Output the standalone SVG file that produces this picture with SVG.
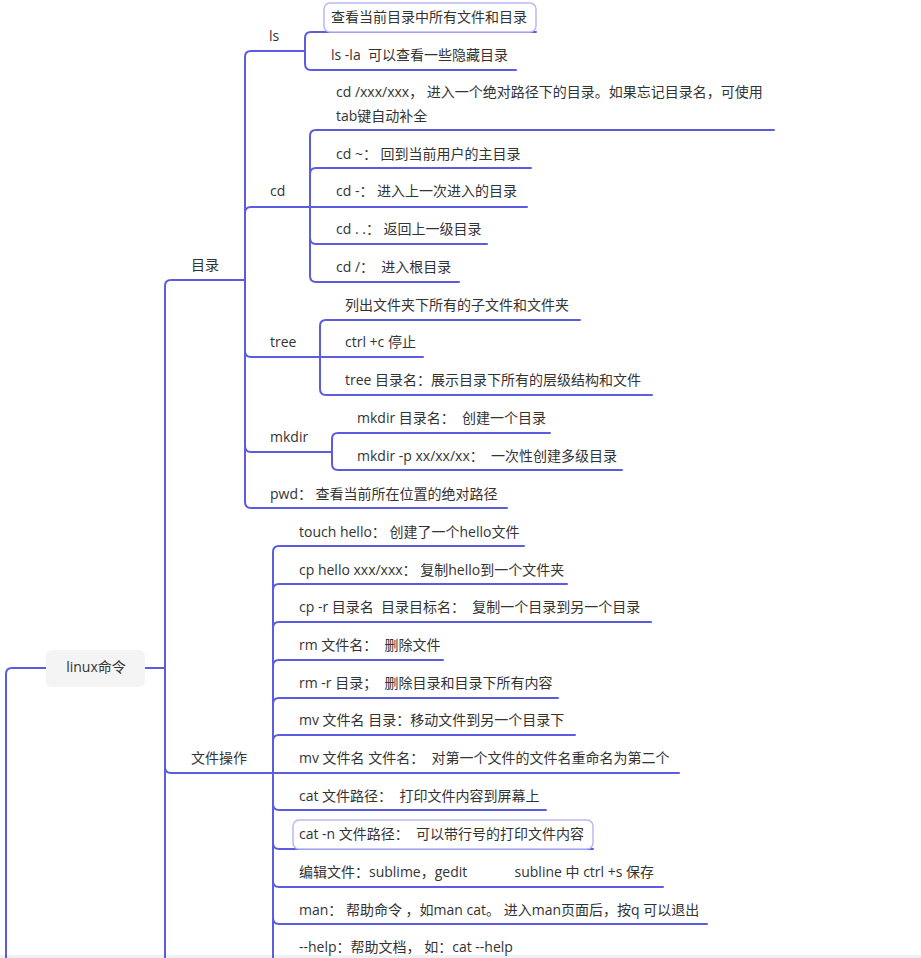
<svg xmlns="http://www.w3.org/2000/svg" width="921" height="958" viewBox="0 0 921 958">
<style>
.c{fill:none;stroke:#5b5ce0;stroke-width:2;stroke-linecap:round;stroke-linejoin:round}
.t{font-family:"Open Sans","Noto Sans CJK SC",sans-serif;font-size:14px;fill:#333;dominant-baseline:central}
.box{fill:#fff;stroke:#b9b9f2;stroke-width:1.5}
</style>
<rect x="0" y="0" width="921" height="958" fill="#fff"/>
<rect x="0" y="955" width="921" height="3" fill="#eef1f6"/>
<g id="connectors">
<path class="c" d="M145,668 H165 M165,668 V958"/>
<path class="c" d="M46,668 H12 Q6,668 6,674 V958"/>
<path class="c" d="M165,668 V286 Q165,280 171,280 H245"/>
<path class="c" d="M165,668 V767 Q165,773 171,773 H273"/>
<path class="c" d="M245,280 V57 Q245,51 251,51 H305"/>
<path class="c" d="M245,280 V213 Q245,207 251,207 H310"/>
<path class="c" d="M245,280 V351 Q245,357 251,357 H320"/>
<path class="c" d="M245,280 V446 Q245,452 251,452 H332"/>
<path class="c" d="M245,280 V502 Q245,508 251,508 H507"/>
<path class="c" d="M305,51 V38 Q305,32 311,32 H536"/>
<path class="c" d="M305,51 V64 Q305,70 311,70 H516"/>
<path class="c" d="M310,207 V136 Q310,130 316,130 H774"/>
<path class="c" d="M310,207 V174 Q310,168 316,168 H531"/>
<path class="c" d="M310,207 H527"/>
<path class="c" d="M310,207 V238 Q310,244 316,244 H487"/>
<path class="c" d="M310,207 V276 Q310,282 316,282 H459"/>
<path class="c" d="M320,357 V326 Q320,320 326,320 H580"/>
<path class="c" d="M320,357 H423"/>
<path class="c" d="M320,357 V389 Q320,395 326,395 H652"/>
<path class="c" d="M332,452 V439 Q332,433 338,433 H550"/>
<path class="c" d="M332,452 V464 Q332,470 338,470 H622"/>
<path class="c" d="M273,773 V552 Q273,546 279,546 H524"/>
<path class="c" d="M273,773 V590 Q273,584 279,584 H567"/>
<path class="c" d="M273,773 V628 Q273,622 279,622 H651"/>
<path class="c" d="M273,773 V666 Q273,660 279,660 H443"/>
<path class="c" d="M273,773 V704 Q273,698 279,698 H558"/>
<path class="c" d="M273,773 V741 Q273,735 279,735 H575"/>
<path class="c" d="M273,773 H679"/>
<path class="c" d="M273,773 V804 Q273,810 279,810 H546"/>
<path class="c" d="M273,773 V843 Q273,849 279,849 H593"/>
<path class="c" d="M273,773 V881 Q273,887 279,887 H663"/>
<path class="c" d="M273,773 V918 Q273,924 279,924 H707"/>
<path class="c" d="M273,773 V958"/>
</g>
<g id="root">
<rect x="46" y="650" width="99" height="37" rx="6" fill="#f4f4f4"/>
<text class="t" x="96" y="666" text-anchor="middle" font-size="15">linux命令</text>
</g>
<g id="mulu"><text class="t" x="191" y="264">目录</text></g>
<g id="ls"><text class="t" x="269" y="35">ls</text></g>
<g id="ls1"><rect class="box" x="324" y="3" width="212" height="29" rx="6"/><text class="t" x="331" y="16">查看当前目录中所有文件和目录</text></g>
<g id="ls2"><text class="t" x="331" y="54" xml:space="preserve">ls -la  可以查看一些隐藏目录</text></g>
<g id="cd"><text class="t" x="270" y="190">cd</text></g>
<g id="cd1"><text class="t" x="336" y="91">cd /xxx/xxx， 进入一个绝对路径下的目录。如果忘记目录名，可使用</text><text class="t" x="336" y="115">tab键自动补全</text></g>
<g id="cd2"><text class="t" x="336" y="153">cd ~： 回到当前用户的主目录</text></g>
<g id="cd3"><text class="t" x="336" y="190">cd -： 进入上一次进入的目录</text></g>
<g id="cd4"><text class="t" x="336" y="228">cd . .： 返回上一级目录</text></g>
<g id="cd5"><text class="t" x="336" y="266" xml:space="preserve">cd /：  进入根目录</text></g>
<g id="tree"><text class="t" x="270" y="341">tree</text></g>
<g id="tree1"><text class="t" x="345" y="304">列出文件夹下所有的子文件和文件夹</text></g>
<g id="tree2"><text class="t" x="345" y="341">ctrl +c 停止</text></g>
<g id="tree3"><text class="t" x="345" y="379">tree 目录名：展示目录下所有的层级结构和文件</text></g>
<g id="mkdir"><text class="t" x="270" y="436">mkdir</text></g>
<g id="mkdir1"><text class="t" x="357" y="417" xml:space="preserve">mkdir 目录名：  创建一个目录</text></g>
<g id="mkdir2"><text class="t" x="357" y="455" xml:space="preserve">mkdir -p xx/xx/xx：  一次性创建多级目录</text></g>
<g id="pwd"><text class="t" x="270" y="493">pwd： 查看当前所在位置的绝对路径</text></g>
<g id="wjcz"><text class="t" x="191" y="757">文件操作</text></g>
<g id="f1"><text class="t" x="299" y="531">touch hello： 创建了一个hello文件</text></g>
<g id="f2"><text class="t" x="299" y="569">cp hello xxx/xxx： 复制hello到一个文件夹</text></g>
<g id="f3"><text class="t" x="299" y="606" xml:space="preserve">cp -r 目录名  目录目标名：  复制一个目录到另一个目录</text></g>
<g id="f4"><text class="t" x="299" y="644" xml:space="preserve">rm 文件名：  删除文件</text></g>
<g id="f5"><text class="t" x="299" y="682" xml:space="preserve">rm -r 目录；  删除目录和目录下所有内容</text></g>
<g id="f6"><text class="t" x="299" y="719">mv 文件名 目录：移动文件到另一个目录下</text></g>
<g id="f7"><text class="t" x="299" y="757" xml:space="preserve">mv 文件名 文件名：  对第一个文件的文件名重命名为第二个</text></g>
<g id="f8"><text class="t" x="299" y="795" xml:space="preserve">cat 文件路径：  打印文件内容到屏幕上</text></g>
<g id="f9"><rect class="box" x="293" y="820" width="300" height="29" rx="6"/><text class="t" x="299" y="833" xml:space="preserve">cat -n 文件路径：  可以带行号的打印文件内容</text></g>
<g id="f10"><text class="t" x="299" y="871" xml:space="preserve">编辑文件：sublime，gedit             subline 中 ctrl +s 保存</text></g>
<g id="f11"><text class="t" x="299" y="909">man： 帮助命令 ，如man cat。 进入man页面后，按q 可以退出</text></g>
<g id="f12"><text class="t" x="299" y="946" xml:space="preserve">--help：帮助文档， 如：cat --help</text></g>
</svg>
